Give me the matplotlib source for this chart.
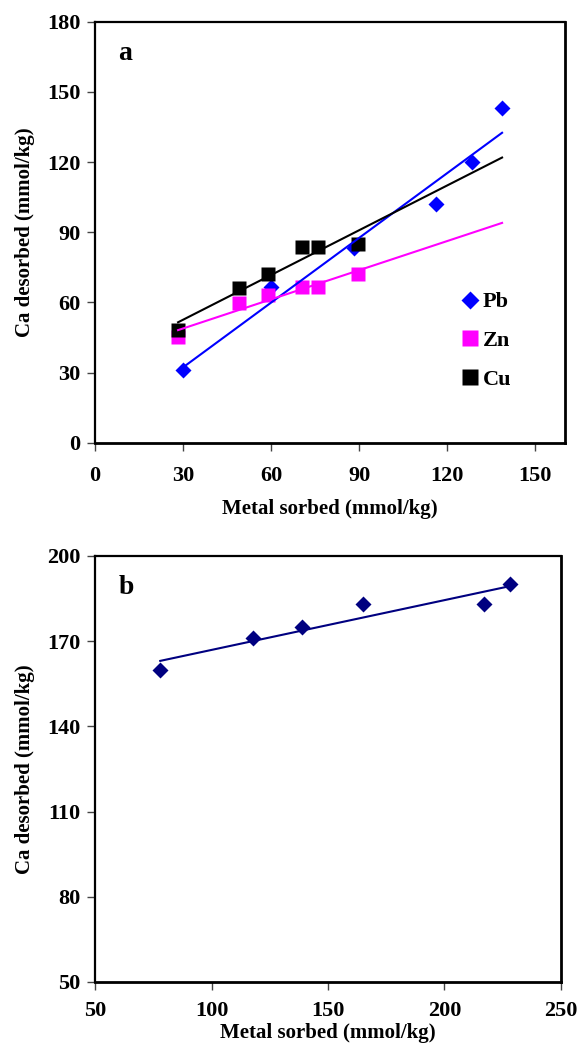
import numpy as np
import matplotlib
matplotlib.use("Agg")
import matplotlib.pyplot as plt

plt.rcParams['font.family'] = ['Liberation Serif', 'DejaVu Serif']
plt.rcParams['font.weight'] = 'bold'

# Panel a: Ca desorbed vs metal sorbed for Pb, Zn, Cu
pb_x = np.array([30.0, 59.9, 88.3, 116.3, 128.6, 138.7])
pb_y = np.array([31.1, 66.4, 83.1, 102.1, 119.9, 143.0])
zn_x = np.array([28.3, 49.1, 59.0, 70.5, 75.9, 89.5])
zn_y = np.array([45.2, 59.7, 63.1, 66.4, 66.4, 72.1])
cu_x = np.array([28.3, 49.1, 59.0, 70.5, 75.9, 89.5])
cu_y = np.array([48.2, 66.0, 72.1, 83.5, 83.5, 84.8])

# Panel b: single metal
b_x = np.array([78, 118, 139, 165, 217, 228])
b_y = np.array([160, 171, 175, 183, 183, 190])

xticks_a = [0, 30, 60, 90, 120, 150]
yticks_a = [0, 30, 60, 90, 120, 150, 180]
xticks_b = [50, 100, 150, 200, 250]
yticks_b = [50, 80, 110, 140, 170, 200]

fs_tick = 16
fs_lab = 15

fig = plt.figure(figsize=(5.79, 10.5), dpi=100)
ax1 = fig.add_axes([0.1641, 0.5784, 0.811, 0.4009])
ax2 = fig.add_axes([0.1641, 0.0648, 0.8048, 0.4057])


def style(ax, xpad, xlabpad):
    for s in ax.spines.values():
        s.set_linewidth(1.6)
    ax.spines['bottom'].set_linewidth(2.0)
    ax.spines['right'].set_linewidth(2.0)
    ax.tick_params(direction='out', length=5.5, width=1.0, color='#444444', labelsize=fs_tick)
    ax.tick_params(axis='x', pad=xpad)
    ax.tick_params(axis='y', pad=5)
    for lab in ax.get_xticklabels() + ax.get_yticklabels():
        lab.set_fontweight('bold')
    ax.set_xlabel('Metal sorbed (mmol/kg)', fontsize=fs_lab, fontweight='bold', labelpad=xlabpad)
    ax.set_ylabel('Ca desorbed (mmol/kg)', fontsize=fs_lab, fontweight='bold', labelpad=9)


# --- panel a ---
x_end = max(pb_x.max(), zn_x.max(), cu_x.max())
ax1.plot(pb_x, pb_y, 'D', color='#0000FF', ms=8, mec='none', label='Pb', zorder=3)
ax1.plot(zn_x, zn_y, 's', color='#FF00FF', ms=10.5, mec='none', label='Zn', zorder=4)
ax1.plot(cu_x, cu_y, 's', color='black', ms=10.5, mec='none', label='Cu', zorder=5)
for xs, ys, c, x0 in [(pb_x, pb_y, '#0000FF', pb_x.min()),
                      (zn_x, zn_y, '#FF00FF', zn_x.min()),
                      (cu_x, cu_y, 'black', cu_x.min())]:
    k, b = np.polyfit(xs, ys, 1)
    xf = np.array([x0, x_end])
    ax1.plot(xf, k * xf + b, '-', color=c, lw=1.5, zorder=6)

ax1.set_xlim(0, 160)
ax1.set_ylim(0, 180)
ax1.set_xticks(xticks_a)
ax1.set_yticks(yticks_a)
style(ax1, 11, 10)
ax1.text(0.05, 0.925, 'a', transform=ax1.transAxes, fontsize=20, fontweight='bold', va='center')
ax1.legend(loc='center left', bbox_to_anchor=(0.72, 0.242), frameon=False,
           handletextpad=-0.15, labelspacing=0.82, handlelength=1.5, markerscale=1.1,
           prop={'weight': 'bold', 'size': 16})

# --- panel b ---
ax2.plot(b_x, b_y, 'D', color='#000080', ms=8, mec='none', zorder=3)
k, b = np.polyfit(b_x, b_y, 1)
xf = np.array([b_x.min(), b_x.max()])
ax2.plot(xf, k * xf + b, '-', color='#000080', lw=1.5, zorder=4)
ax2.set_xlim(50, 250)
ax2.set_ylim(50, 200)
ax2.set_xticks(xticks_b)
ax2.set_yticks(yticks_b)
style(ax2, 8, 2)
ax2.text(0.05, 0.925, 'b', transform=ax2.transAxes, fontsize=20, fontweight='bold', va='center')

fig.savefig('out.png', dpi=100)
